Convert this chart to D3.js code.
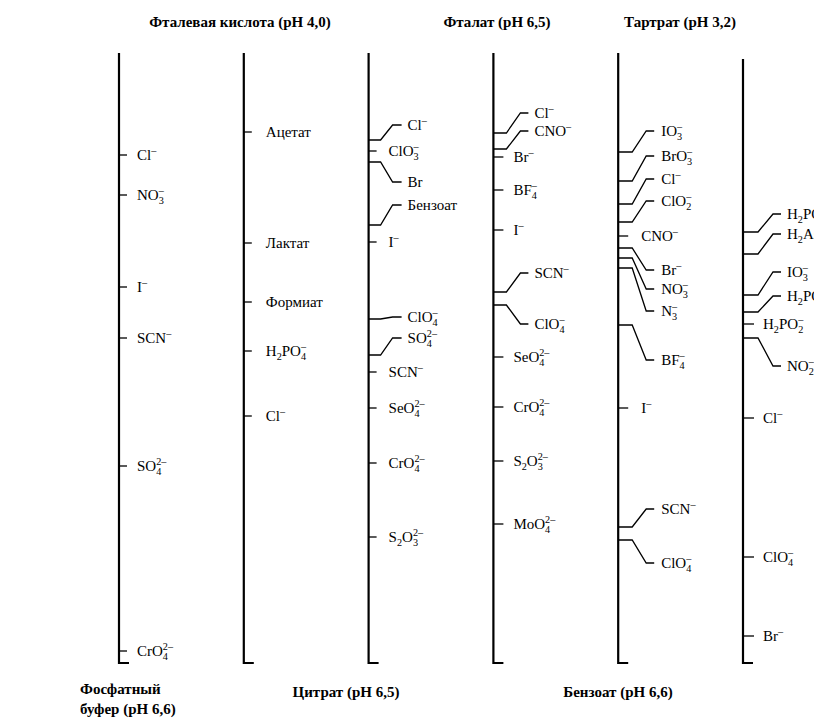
<!DOCTYPE html>
<html><head><meta charset="utf-8">
<script src="https://cdn.jsdelivr.net/npm/d3@7"></script>
<style>
html,body{margin:0;padding:0;background:#fff;}
svg{display:block;}
</style></head><body>
<script>
// ---- data (relative retention, 0 = injection, 610 = end of run) ----
const eluents = ["Фосфатный буфер (pH 6,6)","Фталевая кислота (pH 4,0)","Цитрат (pH 6,5)","Фталат (pH 6,5)","Бензоат (pH 6,6)","Тартрат (pH 3,2)"];

const ions1 = ["Cl^-","NO_3^-","I^-","SCN^-","SO_4^{2-}","CrO_4^{2-}"];
const ret1  = [102,142,234,285,413,598];
const lab1  = [102,142,234,285,413,598];

const ions2 = ["Ацетат","Лактат","Формиат","H_2PO_4^-","Cl^-"];
const ret2  = [79,190,249,298,363];
const lab2  = [79,190,249,298,363];

const ions3 = ["Cl^-","ClO_3^-","Br","Бензоат","I^-","ClO_4^-","SO_4^{2-}","SCN^-","SeO_4^{2-}","CrO_4^{2-}","S_2O_3^{2-}"];
const ret3  = [87,98,109,172,189,266,302,319,355,410,484];
const lab3  = [72,98,129,152,189,264,285,319,355,410,484];

const ions4 = ["Cl^-","CNO^-","Br^-","BF_4^-","I^-","SCN^-","ClO_4^-","SeO_4^{2-}","CrO_4^{2-}","S_2O_3^{2-}","MoO_4^{2-}"];
const ret4  = [80,96,104,137,177,239,252,304,354,408,471];
const lab4  = [60,78,104,137,177,220,271,304,354,408,471];

const ions5 = ["IO_3^-","BrO_3^-","Cl^-","ClO_2^-","CNO^-","Br^-","NO_3^-","N_3^-","BF_4^-","I^-","SCN^-","ClO_4^-"];
const ret5  = [99,128,151,169,183,195,205,215,272,355,474,487];
const lab5  = [78,103,126,148,183,217,236,258,307,355,456,510];

const ions6 = ["H_2PO_4^-","H_2AsO_4^-","IO_3^-","H_2PO_3^-","H_2PO_2^-","NO_2^-","Cl^-","ClO_4^-","Br^-"];
const ret6  = [179,201,242,259,271,285,365,504,583];
const lab6  = [161,181,219,243,271,313,365,504,583];

const runEnd = 610;
const columnsData = [
  {ions:ions1, ret:ret1, lab:lab1},
  {ions:ions2, ret:ret2, lab:lab2},
  {ions:ions3, ret:ret3, lab:lab3},
  {ions:ions4, ret:ret4, lab:lab4},
  {ions:ions5, ret:ret5, lab:lab5},
  {ions:ions6, ret:ret6, lab:lab6}
];

// ---- layout ----
const FONT = "'Liberation Serif', 'DejaVu Serif', 'Times New Roman', serif";
const W = 814, H = 719;
const svg = d3.select("body").append("svg").attr("width",W).attr("height",H)
  .style("font-family", FONT);
const x = d3.scalePoint().domain(eluents).range([119,743]);
const y = d3.scaleLinear().domain([0,runEnd]).range([53,663]);

// per-column leader geometry
const geom = [
  {tick:8, sLab:18, stub:12, diag:12, tail:8, gap:6},
  {tick:8, sLab:22, stub:12, diag:12, tail:8, gap:6},
  {tick:8, sLab:20, stub:12, diag:12, tail:9, gap:6},
  {tick:10, sLab:20, stub:13, diag:14, tail:8, gap:6},
  {tick:10, sLab:23, stub:14, diag:14, tail:8, gap:7},
  {tick:11, sLab:20, stub:15, diag:15, tail:8, gap:6}
];
const topOffset = [0,0,0,0,0,6];

function parse(s){
  const segs=[]; let i=0, buf="";
  const flush=()=>{ if(buf){segs.push({t:"n",v:buf}); buf="";} };
  while(i<s.length){
    const c=s[i];
    if(c==="_"||c==="^"){
      flush();
      let v;
      if(s[i+1]==="{"){ const j=s.indexOf("}",i); v=s.slice(i+2,j); i=j+1; }
      else { v=s[i+1]; i+=2; }
      v=v.replace(/-/g,"\u2013");
      segs.push({t:c==="_"?"sub":"sup",v});
    } else { buf+=c; i++; }
  }
  flush();
  return segs;
}

function richText(g, str, tx, ty, size){
  const t = g.append("text").attr("x",tx).attr("y",ty+5).attr("font-size",size)
    .attr("font-family",FONT).attr("fill","#000");
  const segs = parse(str);
  let cur = 0;
  let lastSubW = 0;
  segs.forEach((s,k)=>{
    const sp = t.append("tspan");
    if(s.t==="n"){
      sp.text(s.v).attr("dy",-cur); cur=0;
    } else if(s.t==="sub"){
      const target=4;
      sp.text(s.v).attr("font-size",size*0.68).attr("dy",target-cur); cur=target;
      lastSubW = sp.node().getComputedTextLength();
    } else {
      const target=-6;
      const prev = segs[k-1];
      if(prev && prev.t==="sub"){ sp.attr("dx",-lastSubW); }
      sp.text(s.v).attr("font-size",size*0.68).attr("dy",target-cur); cur=target;
    }
  });
  return t;
}

columnsData.forEach((col,ci)=>{
  const cx = x(eluents[ci]);
  const gm = geom[ci];
  const g = svg.append("g");
  g.append("path")
    .attr("d", d3.line()([[cx, y(0)+topOffset[ci]],[cx, y(runEnd)],[cx+10, y(runEnd)]]))
    .attr("fill","none").attr("stroke","#000").attr("stroke-width",2.2);
  col.ions.forEach((ion,k)=>{
    const ty = y(col.ret[k]), ly = y(col.lab[k]);
    let pts, lx;
    if(col.ret[k]===col.lab[k]){
      pts=[[cx,ty],[cx+gm.tick,ty]];
      lx = cx+gm.sLab;
    } else {
      const x1=cx+gm.stub, x2=x1+gm.diag, x3=x2+gm.tail;
      pts=[[cx,ty],[x1,ty],[x2,ly],[x3,ly]];
      lx = x3+gm.gap;
    }
    g.append("path").attr("d",d3.line()(pts)).attr("fill","none").attr("stroke","#000").attr("stroke-width",1.3);
    richText(g, ion, lx, ly, 15);
  });
});

// column titles
const titleTop = [
  {name:eluents[1], cx:240},
  {name:eluents[3], cx:497},
  {name:eluents[5], cx:680}
];
titleTop.forEach(d=>{
  svg.append("text").attr("x",d.cx).attr("y",27).attr("text-anchor","middle")
    .attr("font-family",FONT).attr("font-size",15).attr("font-weight","bold").text(d.name);
});
const titleBottom = [
  {name:eluents[2], cx:346},
  {name:eluents[4], cx:618}
];
titleBottom.forEach(d=>{
  svg.append("text").attr("x",d.cx).attr("y",697).attr("text-anchor","middle")
    .attr("font-family",FONT).attr("font-size",15).attr("font-weight","bold").text(d.name);
});
svg.append("text").attr("x",80).attr("y",694).attr("font-family",FONT).attr("font-size",15).attr("font-weight","bold").text("Фосфатный");
svg.append("text").attr("x",80).attr("y",714).attr("font-family",FONT).attr("font-size",15).attr("font-weight","bold").text("буфер (pH 6,6)");
</script>
</body></html>
